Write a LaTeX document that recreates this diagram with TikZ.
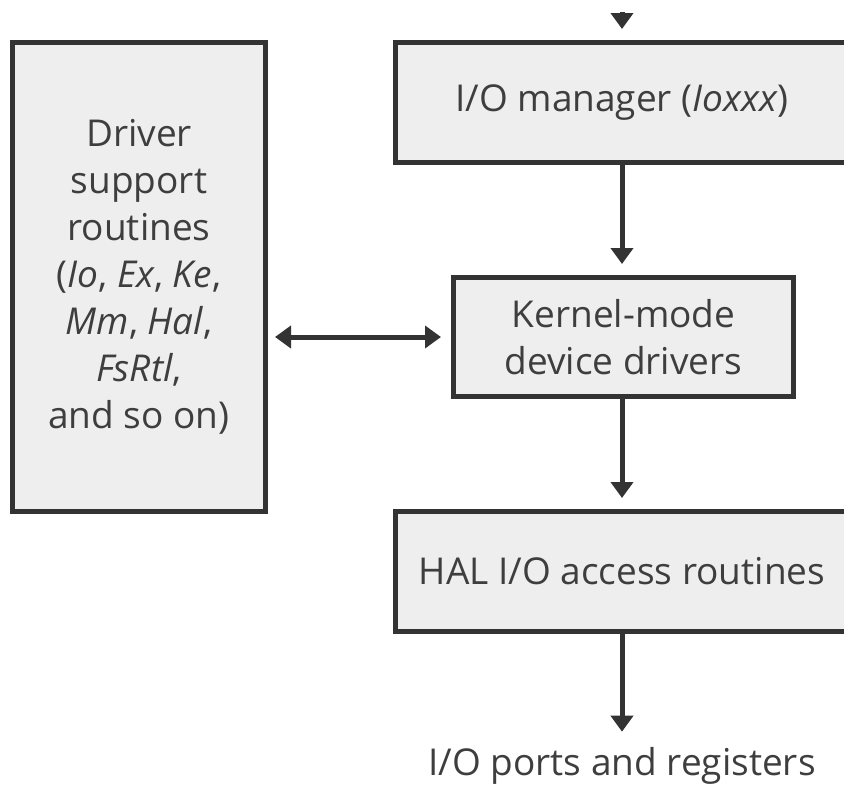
\documentclass[tikz,border=0pt]{standalone}
\usepackage{fontspec}
\setmainfont{Open Sans}
\usetikzlibrary{arrows.meta, positioning}
\definecolor{boxline}{RGB}{51,51,51}
\definecolor{boxfill}{RGB}{238,238,238}
\definecolor{labeltext}{RGB}{62,62,62}
\tikzset{headtip/.tip={Triangle[width=22pt,length=16pt]}}

\begin{document}
\begin{tikzpicture}[x=1pt,y=-1pt,
  blk/.style={draw=boxline,fill=boxfill,line width=5pt,align=center,inner sep=0pt,
    text=labeltext,font=\fontsize{37}{47}\selectfont},
  flow/.style={draw=boxline,line width=5pt,-headtip,shorten >=11pt}]
  \useasboundingbox (0,0) rectangle (844,785);
  \clip (0,0) rectangle (844,785);
  % support routines on the left
  \node[blk,minimum width=253pt,minimum height=469pt] (drv) at (139,277)
    {Driver\\support\\routines\\(\textit{Io}, \textit{Ex}, \textit{Ke},\\\textit{Mm}, \textit{Hal},\\\textit{FsRtl},\\and so on)};
  % the I/O stack
  \node[blk,minimum width=453pt,minimum height=120pt] (iom) at (622,102.5) {I/O manager (\textit{Ioxxx})};
  \node[blk,minimum width=340pt,minimum height=119pt] (krn) at (623.5,337) {Kernel-mode\\device drivers};
  \node[blk,minimum width=453pt,minimum height=120pt] (hal) at (622,571.5) {HAL I/O access routines};
  \node[text=labeltext,font=\fontsize{37}{47}\selectfont,inner sep=0pt,anchor=base] (ports) at (622,775) {I/O ports and registers};
  % connectors
  \coordinate (feed) at (622,12);
  \draw[flow] (feed) -- (iom.north);
  \draw[flow] (iom.south) -- (iom.south |- krn.north);
  \draw[flow] (hal.north |- krn.south) -- (hal.north);
  \draw[flow,shorten >=15pt] (hal.south) -- (ports.north);
  \draw[flow,headtip-headtip,shorten <=7pt,shorten >=10pt] (krn.west -| drv.east) -- (krn.west);
\end{tikzpicture}
\end{document}
